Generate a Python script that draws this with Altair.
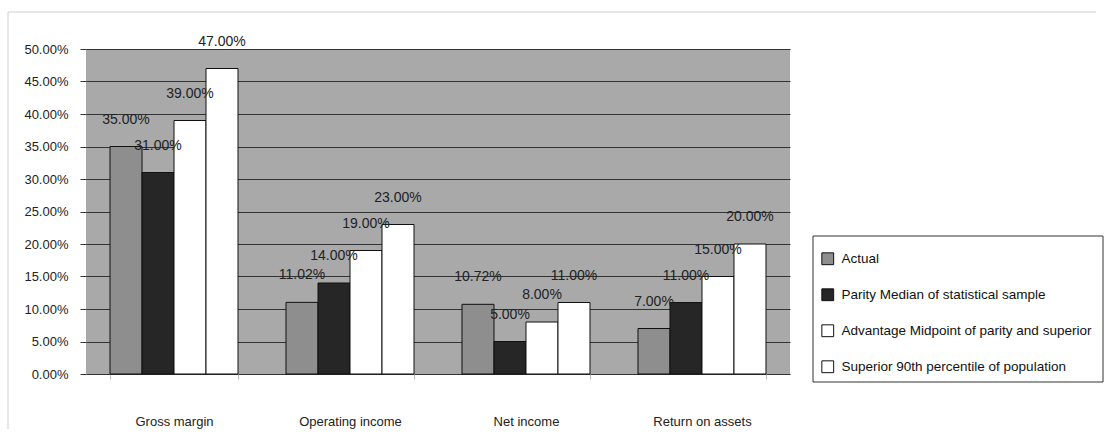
import altair as alt
import pandas as pd

categories = ["Gross margin", "Operating income", "Net income", "Return on assets"]
series = [
    "Actual",
    "Parity Median of statistical sample",
    "Advantage Midpoint of parity and superior",
    "Superior 90th percentile of population",
]
actual = [0.35, 0.1102, 0.1072, 0.07]
parity = [0.31, 0.14, 0.05, 0.11]
advantage = [0.39, 0.19, 0.08, 0.15]
superior = [0.47, 0.23, 0.11, 0.20]
y_ticks = [0.0, 0.05, 0.10, 0.15, 0.20, 0.25, 0.30, 0.35, 0.40, 0.45, 0.50]

rows = []
for s, vals in zip(series, [actual, parity, advantage, superior]):
    for c, v in zip(categories, vals):
        rows.append({"category": c, "series": s, "value": v})
df = pd.DataFrame(rows)

fills = ["#8e8e8e", "#262626", "#ffffff", "#ffffff"]
FONT = "Liberation Sans"

x_enc = alt.X(
    "category:N",
    sort=categories,
    scale=alt.Scale(paddingInner=0.2727, paddingOuter=0.1364),
    axis=alt.Axis(
        title=None,
        labelAngle=0,
        labelFontSize=13,
        labelFont=FONT,
        labelColor="#222222",
        labelPadding=36,
        tickBand="extent",
        tickSize=5,
        tickColor="#bbbbbb",
        domain=False,
        grid=False,
    ),
)
y_enc = alt.Y(
    "value:Q",
    scale=alt.Scale(domain=[0, 0.5], nice=False),
    axis=alt.Axis(
        title=None,
        values=y_ticks,
        format=".2%",
        labelFontSize=13,
        labelFont=FONT,
        labelColor="#222222",
        labelOverlap=False,
        tickSize=6,
        tickColor="#333333",
        labelPadding=12,
        domain=False,
        grid=True,
        gridColor="#333333",
        gridWidth=1.2,
    ),
)
xoff = alt.XOffset("series:N", sort=series)

# legend frame (drawn behind the legend entries)
frame_box = alt.Chart(pd.DataFrame({"a": [0]})).mark_rect(
    fill="#ffffff", stroke="#333333", strokeWidth=1, clip=False
).encode(
    x=alt.value(727), x2=alt.value(1017), y=alt.value(187), y2=alt.value(333)
)

bars = alt.Chart(df).mark_bar(stroke="#111111", strokeWidth=1).encode(
    x=x_enc,
    xOffset=xoff,
    y=y_enc,
    color=alt.Color(
        "series:N",
        sort=series,
        scale=alt.Scale(domain=series, range=fills),
        legend=alt.Legend(
            title=None,
            orient="none",
            legendX=735,
            legendY=203,
            symbolType="square",
            symbolSize=140,
            symbolStrokeColor="#111111",
            symbolStrokeWidth=1,
            labelFontSize=13.5,
            labelFont=FONT,
            labelColor="#111111",
            labelLimit=400,
            labelOffset=7,
            rowPadding=19,
            padding=0,
        ),
    ),
)

labels = alt.Chart(df).mark_text(
    fontSize=14, font=FONT, color="#222222", baseline="middle", dy=-27
).encode(
    x=alt.X("category:N", sort=categories),
    xOffset=xoff,
    y=y_enc,
    text=alt.Text("value:Q", format=".2%"),
)

frame = alt.Chart(pd.DataFrame({"a": [0]})).mark_rule(
    color="#cfcfcf", strokeWidth=1, clip=False
)
top_line = frame.encode(x=alt.value(-78), x2=alt.value(1010), y=alt.value(-37))
left_line = frame.encode(x=alt.value(-78), y=alt.value(-37), y2=alt.value(380))

chart = (
    alt.layer(frame_box, bars, labels, top_line, left_line)
    .properties(
        width=704,
        height=325,
        autosize=alt.AutoSizeParams(type="none"),
        padding={"left": 86, "top": 49, "right": 318, "bottom": 65},
        background="#ffffff",
    )
    .configure_view(fill="#a9a9a9", stroke=None)
)

chart.save("out.html", embed_options={"renderer": "svg", "actions": False})
